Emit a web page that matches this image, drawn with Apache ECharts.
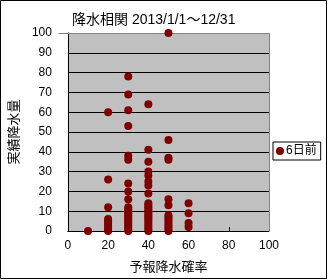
<!DOCTYPE html>
<html><head><meta charset="utf-8">
<script src="https://cdn.jsdelivr.net/npm/echarts@6/dist/echarts.min.js"></script>
<style>html,body{margin:0;padding:0;background:#fff}#c{width:331px;height:280px}</style>
</head><body><div id="c"></div>
<script>
const titleText = '降水相関 2013/1/1～12/31';
const seriesName = '6日前';
const xTicks = [0, 20, 40, 60, 80, 100];
const yTicks = [0, 10, 20, 30, 40, 50, 60, 70, 80, 90, 100];
const probs = [10, 20, 30, 40, 50, 60];
const rain10 = [0];
const rain20 = [0, 1, 2, 3, 4, 5, 6, 12, 26, 60];
const rain30 = [0, 1, 2, 3, 4, 5, 6, 7, 8, 9, 10, 11, 12, 16, 20, 24, 36, 38, 53, 61, 69, 78];
const rain40 = [0, 1, 2, 3, 4, 5, 6, 7, 8, 9, 10, 11, 12, 13, 14, 19, 23, 25, 28, 30, 35, 41, 64];
const rain50 = [0, 1, 2, 3, 4, 5, 6, 7, 8, 13, 16, 36, 37, 46, 100];
const rain60 = [2, 4, 9, 14];

const cols = [rain10, rain20, rain30, rain40, rain50, rain60];
const points = [];
cols.forEach((arr, i) => arr.forEach(v => points.push([probs[i], v])));

const FF = 'Liberation Sans, Noto Sans CJK JP, sans-serif';
const chart = echarts.init(document.getElementById('c'), null, {renderer: 'canvas'});
chart.setOption({
  animation: false,
  backgroundColor: '#fff',
  textStyle: {fontFamily: FF},
  title: {
    text: titleText, left: 67, top: 8,
    textStyle: {fontSize: 14, fontWeight: 'normal', color: '#000', fontFamily: FF}
  },
  legend: {
    data: [{name: seriesName, icon: 'circle'}],
    left: 273, top: 142, orient: 'vertical',
    itemWidth: 8, itemHeight: 8, itemGap: 2,
    padding: [3, 4, 3, 3],
    borderColor: '#000', borderWidth: 1, backgroundColor: '#fff',
    textStyle: {fontSize: 12, color: '#000', fontFamily: FF, padding: [0, 0, 0, -3]}
  },
  graphic: [{
    type: 'rect', shape: {x: 0.5, y: 0.5, width: 326, height: 278},
    style: {fill: 'none', stroke: '#000', lineWidth: 1}, silent: true, z: -1
  }, {
    type: 'polyline', shape: {points: [[58.5, 33.5], [269.5, 33.5], [269.5, 231]]},
    style: {fill: 'none', stroke: '#808080', lineWidth: 1}, silent: true, z: 1
  }],
  grid: {left: 58, right: 62, top: 33, bottom: 49, show: true, backgroundColor: '#c0c0c0', borderWidth: 0},
  xAxis: {
    type: 'value', min: xTicks[0], max: xTicks[xTicks.length - 1], interval: xTicks[1] - xTicks[0],
    name: '予報降水確率', nameLocation: 'middle', nameGap: 30,
    nameTextStyle: {fontSize: 13, color: '#000', fontFamily: FF},
    axisLine: {lineStyle: {color: '#000', width: 1}},
    axisTick: {show: true, inside: true, length: 4, lineStyle: {color: '#000'}},
    axisLabel: {fontSize: 12, color: '#000', margin: 9, fontFamily: FF},
    splitLine: {show: false}
  },
  yAxis: {
    type: 'value', min: yTicks[0], max: yTicks[yTicks.length - 1], interval: yTicks[1] - yTicks[0],
    name: '実績降水量', nameLocation: 'middle', nameGap: 29, nameRotate: 90,
    nameTextStyle: {fontSize: 13, color: '#000', fontFamily: FF},
    axisLine: {lineStyle: {color: '#000', width: 1}},
    axisTick: {show: false},
    axisLabel: {fontSize: 12, color: '#000', margin: 16, fontFamily: FF},
    splitLine: {show: true, lineStyle: {color: '#000', width: 1}}
  },
  series: [{
    name: seriesName, type: 'scatter', data: points, clip: false,
    symbol: 'circle', symbolSize: 8,
    itemStyle: {color: '#800000', opacity: 1}, z: 3
  }]
});
</script></body></html>
